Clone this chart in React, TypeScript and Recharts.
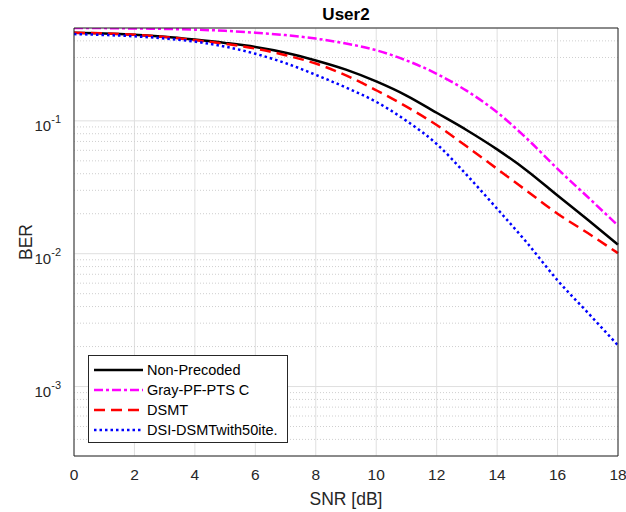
import React from 'react';
import { LineChart, Line, XAxis, YAxis, CartesianGrid, Label, ReferenceLine } from 'recharts';

// SNR points (dB) and BER
const snr = [0, 1, 2, 3, 4, 5, 6, 7, 8, 9, 10, 11, 12, 13, 14, 15, 16, 17, 18];
const nonPrecoded = [0.46, 0.455, 0.445, 0.43, 0.409, 0.386, 0.36, 0.326, 0.285, 0.243, 0.198, 0.155, 0.115, 0.085, 0.061, 0.042, 0.0274, 0.018, 0.0117];
const grayPfPts = [0.5, 0.499, 0.496, 0.492, 0.486, 0.476, 0.461, 0.442, 0.416, 0.382, 0.34, 0.285, 0.226, 0.168, 0.116, 0.073, 0.0435, 0.0267, 0.0163];
const dsmt = [0.46, 0.455, 0.445, 0.428, 0.405, 0.38, 0.35, 0.312, 0.27, 0.22, 0.17, 0.128, 0.093, 0.064, 0.0435, 0.0295, 0.02, 0.0143, 0.0101];
const dsiDsmt = [0.45, 0.443, 0.433, 0.417, 0.395, 0.362, 0.32, 0.272, 0.222, 0.178, 0.139, 0.1, 0.067, 0.039, 0.0218, 0.012, 0.0063, 0.0036, 0.00204];

const xTicks = [0, 2, 4, 6, 8, 10, 12, 14, 16, 18];
const yMajor = [1e-3, 1e-2, 1e-1];
const yMinor = [
    4e-4, 5e-4, 6e-4, 7e-4, 8e-4, 9e-4,
    2e-3, 3e-3, 4e-3, 5e-3, 6e-3, 7e-3, 8e-3, 9e-3,
    2e-2, 3e-2, 4e-2, 5e-2, 6e-2, 7e-2, 8e-2, 9e-2,
    0.2, 0.3, 0.4,
];
const yDomain = [3e-4, 0.5];

const series = [
    { key: 'np', name: 'Non-Precoded', values: nonPrecoded, color: '#000000', dash: undefined },
    { key: 'gray', name: 'Gray-PF-PTS C', values: grayPfPts, color: '#ff00ff', dash: '9 3 3 3' },
    { key: 'dsmt', name: 'DSMT', values: dsmt, color: '#ff0000', dash: '11 6' },
    { key: 'dsi', name: 'DSI-DSMTwith50ite.', values: dsiDsmt, color: '#0000ff', dash: '2.5 3' },
];

const data = snr.map((s, i) => {
    const row: Record<string, number> = { snr: s };
    series.forEach(sr => { row[sr.key] = sr.values[i]; });
    return row;
});

const FONT = '"Liberation Sans", Arial, Helvetica, sans-serif';
const AXIS = '#262626';

const YTick = ({ x, y, payload }: any) => {
    const exp = Math.round(Math.log10(payload.value));
    return (
        <text x={x} y={y} textAnchor="end" fill={AXIS} fontFamily={FONT}>
            <tspan fontSize={15} dy={10}>10</tspan>
            <tspan fontSize={11} dy={-8}>{exp}</tspan>
        </text>
    );
};

export default function App() {
    return (
        <div style={{ position: 'absolute', left: 0, top: 0, width: 626, height: 512, background: '#fff', fontFamily: FONT }}>
            <div style={{ position: 'absolute', left: 74, top: 6, width: 544, textAlign: 'center', fontSize: 17, lineHeight: '17px', fontWeight: 'bold', color: '#000' }}>
                User2
            </div>
            <LineChart width={626} height={512} data={data} margin={{ top: 28, right: 8, left: 0, bottom: 0 }}>
                <CartesianGrid stroke="#dfdfdf" strokeWidth={1} />
                {yMinor.map(v => (
                    <ReferenceLine key={v} y={v} stroke="#cfcfcf" strokeDasharray="1 2" strokeWidth={1} />
                ))}
                <XAxis
                    dataKey="snr"
                    type="number"
                    domain={[0, 18]}
                    ticks={xTicks}
                    height={56}
                    tickLine={false}
                    tickMargin={7}
                    axisLine={{ stroke: AXIS }}
                    tick={{ fontSize: 15.5, fill: AXIS, fontFamily: FONT }}
                >
                    <Label value="SNR [dB]" position="insideBottom" offset={7} fill={AXIS} fontSize={17.5} fontFamily={FONT} />
                </XAxis>
                <XAxis xAxisId="xin" type="number" domain={[0, 18]} ticks={xTicks} orientation="bottom" mirror tick={false} tickSize={5} axisLine={false} tickLine={{ stroke: AXIS }} />
                <XAxis xAxisId="top" type="number" domain={[0, 18]} ticks={xTicks} orientation="top" mirror tick={false} tickSize={5} axisLine={{ stroke: AXIS }} tickLine={{ stroke: AXIS }} />
                <YAxis
                    scale="log"
                    type="number"
                    domain={yDomain}
                    allowDataOverflow
                    ticks={yMajor}
                    width={74}
                    tickLine={false}
                    tickMargin={7}
                    axisLine={{ stroke: AXIS }}
                    tick={<YTick />}
                >
                    <Label
                        content={({ viewBox }: any) => (
                            <text
                                x={viewBox.x + 32}
                                y={viewBox.y + viewBox.height / 2}
                                transform={`rotate(-90 ${viewBox.x + 32} ${viewBox.y + viewBox.height / 2})`}
                                textAnchor="middle"
                                fill={AXIS}
                                fontSize={17.5}
                                fontFamily={FONT}
                            >
                                BER
                            </text>
                        )}
                    />
                </YAxis>
                <YAxis yAxisId="lmaj" scale="log" type="number" domain={yDomain} allowDataOverflow ticks={yMajor} orientation="left" mirror tick={false} tickSize={5} axisLine={false} tickLine={{ stroke: AXIS }} />
                <YAxis yAxisId="lmin" scale="log" type="number" domain={yDomain} allowDataOverflow ticks={yMinor} orientation="left" mirror tick={false} tickSize={3} axisLine={false} tickLine={{ stroke: AXIS }} />
                <YAxis yAxisId="rmaj" scale="log" type="number" domain={yDomain} allowDataOverflow ticks={yMajor} orientation="right" mirror tick={false} tickSize={5} axisLine={{ stroke: AXIS }} tickLine={{ stroke: AXIS }} />
                <YAxis yAxisId="rmin" scale="log" type="number" domain={yDomain} allowDataOverflow ticks={yMinor} orientation="right" mirror tick={false} tickSize={3} axisLine={false} tickLine={{ stroke: AXIS }} />
                {series.map(s => (
                    <Line
                        key={s.key}
                        type="monotone"
                        dataKey={s.key}
                        name={s.name}
                        stroke={s.color}
                        strokeWidth={2.5}
                        strokeDasharray={s.dash}
                        dot={false}
                        activeDot={false}
                        isAnimationActive={false}
                    />
                ))}
            </LineChart>
            <div style={{ position: 'absolute', left: 88, top: 355, width: 200, height: 88, border: `1px solid ${AXIS}`, background: '#fff', boxSizing: 'border-box' }}>
                <svg width={198} height={86}>
                    {series.map((s, i) => (
                        <g key={s.key}>
                            <line x1={5} x2={54} y1={14 + i * 20} y2={14 + i * 20} stroke={s.color} strokeWidth={2.5} strokeDasharray={s.dash} />
                            <text x={58} y={19 + i * 20} fontSize={14.5} fontFamily={FONT} fill="#000">{s.name}</text>
                        </g>
                    ))}
                </svg>
            </div>
        </div>
    );
}
